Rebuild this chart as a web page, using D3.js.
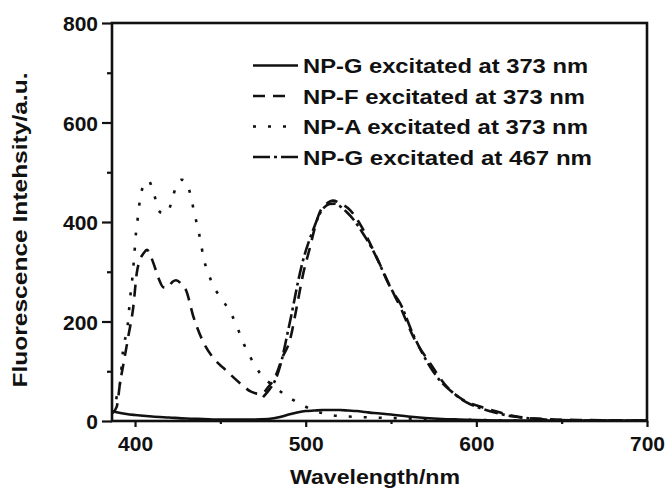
<!DOCTYPE html>
<html>
<head>
<meta charset="utf-8">
<script src="https://cdn.jsdelivr.net/npm/d3@7"></script>
<style>
  body { margin: 0; background: #fff; }
  text { font-family: "Liberation Sans", Arial, Helvetica, sans-serif; font-weight: bold; fill: #111; }
</style>
</head>
<body>
<script>
// wavelength (nm), intensity (a.u.)
var npG373 = [[386.5,20],[390,17],[395,14],[400,12],[410,9],[420,7],[430,5],[440,4],[450,3],[460,3],[470,3],
  [478,4],[485,8],[490,13],[495,17],[500,20],[505,21],[510,22],[515,22],[520,22],[525,21],[530,20],[535,18],
  [540,16],[550,13],[560,9],[570,6],[580,4],[590,3],[600,2],[620,1],[650,1],[700,1]];

var npF373 = [[386.5,15],[389.3,29],[391.2,76],[393.5,120],[396,169],[399,230],[401,297],[403,325],[405,337],
  [407,344],[409,333],[411.5,310],[414,285],[416.5,269],[419,268],[422,280],[424,283],[427,276],[430,262],
  [434,212],[439,166],[446,126],[452,106],[461.5,76],[468,59],[472,55],[475,57],[478,68],[481,82],[483.5,100],
  [486,125],[490.8,163],[494.8,230],[498.6,297],[502.6,350],[504.5,377],[508.4,421],[512,436],[516,443],
  [520,438],[526,424],[533.8,384],[537.7,357],[543.6,314],[549.5,270],[555.3,230],[563.1,169],[572.9,116],
  [582.7,69],[592.4,42],[602.2,29],[612,19],[623.7,9],[639.3,4],[660,2],[700,1]];

var npA373 = [[386.5,15],[388,30],[390,60],[391.2,76],[393,143],[395.7,193],[397,243],[398.5,290],[399.5,330],
  [400.5,376],[401.5,405],[402.5,435],[404,464],[406,478],[408,483],[410,468],[411.5,452],[413.5,425],[416,418],
  [419,419],[422,449],[424.8,478],[427.5,485],[430.3,479],[432.8,449],[434.7,419],[436.7,389],[438.5,360],
  [440,330],[442.6,300],[446,271],[451.7,241],[456.7,213],[460.5,183],[464,153],[468.4,123],[473.7,94],
  [482,68],[490.4,47],[499.2,30],[506,20],[515,12],[525,9],[540,7],[560,5],[580,3],[600,2],[650,1],[700,1]];

var npG467 = [[475,48],[478,60],[480,69],[483,89],[486,123],[488.9,169],[491.8,216],[495.7,283],[499,330],
  [502,362],[505,390],[508,415],[511,430],[514,436],[517,437],[520,432],[524,420],[528,405],[533,380],
  [538,352],[543,318],[547.5,283],[551,260],[555.3,237],[563.1,173],[572.9,109],[579,80],[586.6,56],
  [594,38],[602.2,26],[612,16],[621.7,9],[633,5],[645,2],[670,1],[700,1]];

var xTicks = [400, 500, 600, 700];
var xMinor = [450, 550, 650];
var yTicks = [0, 200, 400, 600, 800];
var yMinor = [100, 300, 500, 700];

var legendLabels = ['NP-G excitated at 373 nm', 'NP-F excitated at 373 nm',
  'NP-A excitated at 373 nm', 'NP-G excitated at 467 nm'];

var svg = d3.select('body').append('svg').attr('width', 667).attr('height', 489);

var x = d3.scaleLinear().domain([386.5, 700]).range([112, 647]);
var y = d3.scaleLinear().domain([0, 800]).range([421, 23]);

var series = [
  { data: npG373, dash: null },
  { data: npF373, dash: '12,8' },
  { data: npA373, dash: '3,12' },
  { data: npG467, dash: '14,4,3,4' }
];

var line = d3.line()
  .x(function (d) { return x(d[0]); })
  .y(function (d) { return y(d[1]); })
  .curve(d3.curveMonotoneX);

svg.selectAll('path.curve')
  .data(series)
  .enter()
  .append('path')
  .attr('class', 'curve')
  .attr('d', function (d) { return line(d.data); })
  .attr('fill', 'none')
  .attr('stroke', '#111')
  .attr('stroke-width', 2.6)
  .attr('stroke-dasharray', function (d) { return d.dash; });

// axes
var xAxis = svg.append('g').attr('transform', 'translate(0,421)')
  .call(d3.axisBottom(x).tickValues(xTicks).tickSize(6).tickSizeOuter(0).tickPadding(9));
var xAxisMinor = svg.append('g').attr('transform', 'translate(0,421)')
  .call(d3.axisBottom(x).tickValues(xMinor).tickSize(3).tickSizeOuter(0).tickFormat(''));
var yAxis = svg.append('g').attr('transform', 'translate(112,0)')
  .call(d3.axisLeft(y).tickValues(yTicks).tickSize(10).tickSizeOuter(0).tickPadding(4));
var yAxisMinor = svg.append('g').attr('transform', 'translate(112,0)')
  .call(d3.axisLeft(y).tickValues(yMinor).tickSize(5).tickSizeOuter(0).tickFormat(''));

[xAxis, xAxisMinor, yAxis, yAxisMinor].forEach(function (a) {
  a.select('.domain').remove();
  a.selectAll('line').attr('stroke', '#111').attr('stroke-width', 2.2);
  a.selectAll('text').attr('font-size', '21px').attr('fill', '#111');
});
yAxis.selectAll('text').attr('dy', '0.36em');

// frame
svg.append('rect')
  .attr('x', 112).attr('y', 23)
  .attr('width', 535).attr('height', 398)
  .attr('fill', 'none')
  .attr('stroke', '#111')
  .attr('stroke-width', 2.6);

// axis titles
svg.append('text')
  .attr('x', 375).attr('y', 484)
  .attr('text-anchor', 'middle')
  .attr('font-size', '21px')
  .attr('textLength', 170).attr('lengthAdjust', 'spacingAndGlyphs')
  .text('Wavelength/nm');

svg.append('text')
  .attr('transform', 'translate(27,230) rotate(-90)')
  .attr('text-anchor', 'middle')
  .attr('font-size', '21px')
  .attr('textLength', 315).attr('lengthAdjust', 'spacingAndGlyphs')
  .text('Fluorescence Intehsity/a.u.');

// legend
var legendW = [285, 282, 285, 289];
var legend = svg.selectAll('g.leg')
  .data(series)
  .enter()
  .append('g')
  .attr('class', 'leg')
  .attr('transform', function (d, i) { return 'translate(0,' + (65.5 + i * 30.5) + ')'; });

legend.append('line')
  .attr('x1', 253).attr('x2', function (d, i) { return i === 1 ? 289 : 298; })
  .attr('y1', 0).attr('y2', 0)
  .attr('stroke', '#111')
  .attr('stroke-width', 2.6)
  .attr('stroke-dasharray', function (d, i) { return i === 3 ? '17,4,3,4' : d.dash; });

legend.append('text')
  .attr('x', 303).attr('y', 7.8)
  .attr('font-size', '21px')
  .attr('textLength', function (d, i) { return legendW[i]; })
  .attr('lengthAdjust', 'spacingAndGlyphs')
  .text(function (d, i) { return legendLabels[i]; });
</script>
</body>
</html>
